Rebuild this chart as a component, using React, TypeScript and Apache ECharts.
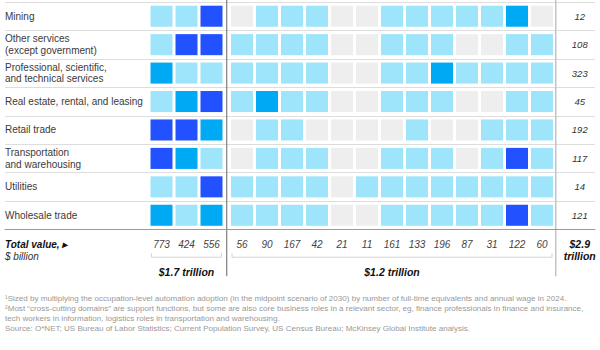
import React, { useEffect, useRef } from "react";
import * as echarts from "echarts";

const rowLabels = [
  "Mining",
  "Other services\n(except government)",
  "Professional, scientific,\nand technical services",
  "Real estate, rental, and leasing",
  "Retail trade",
  "Transportation\nand warehousing",
  "Utilities",
  "Wholesale trade",
];

// 0 = gray, 1 = light blue, 2 = medium blue, 3 = dark blue
const mining = [1, 1, 3, 0, 1, 1, 1, 0, 0, 1, 1, 1, 1, 1, 2, 0];
const otherServices = [1, 3, 3, 1, 1, 1, 1, 0, 0, 1, 1, 1, 0, 0, 1, 1];
const professional = [2, 1, 1, 1, 1, 1, 1, 0, 0, 1, 1, 2, 1, 1, 1, 1];
const realEstate = [1, 2, 3, 1, 2, 1, 1, 0, 0, 1, 1, 1, 0, 0, 1, 1];
const retail = [3, 3, 2, 0, 1, 1, 0, 0, 0, 0, 1, 0, 0, 1, 1, 1];
const transportation = [3, 2, 1, 0, 1, 1, 1, 0, 0, 1, 1, 1, 0, 1, 3, 1];
const utilities = [1, 1, 3, 1, 1, 1, 1, 0, 1, 1, 1, 1, 1, 1, 1, 1];
const wholesale = [2, 1, 2, 1, 1, 1, 1, 0, 0, 1, 1, 1, 1, 1, 3, 1];
const cellLevels = [mining, otherServices, professional, realEstate, retail, transportation, utilities, wholesale];

const rowValues = [12, 108, 323, 45, 192, 117, 14, 121];
const columnTotals = [773, 424, 556, 56, 90, 167, 42, 21, 11, 161, 133, 196, 87, 31, 122, 60];
const groupSizes = [3, 13];
const groupTotals = ["$1.7 trillion", "$1.2 trillion"];
const grandTotal = ["$2.9", "trillion"];
const totalLabel = ["Total value, \u25B8", "$ billion"];
const footnotes = [
  "\u00B9Sized by multiplying the occupation-level automation adoption (in the midpoint scenario of 2030) by number of full-time equivalents and annual wage in 2024.",
  "\u00B2Most \u201Ccross-cutting domains\u201D are support functions, but some are also core business roles in a relevant sector, eg, finance professionals in finance and insurance,",
  "tech workers in information, logistics roles in transportation and warehousing.",
  "Source: O*NET; US Bureau of Labor Statistics; Current Population Survey, US Census Bureau; McKinsey Global Institute analysis.",
];

const levelColors = ["#eeeeee", "#9ee4fb", "#00a9f4", "#2251ff"];
const FONT = "'Liberation Sans', Arial, Helvetica, sans-serif";
const GROUP_GAP = 0.22;
const X_MIN = -6.26;
const X_MAX = 17.34;
const VALUE_X = 16.73;

const colX = (c: number) => (c < groupSizes[0] ? c : c + GROUP_GAP);

export default function App() {
  const ref = useRef<HTMLDivElement>(null);
  useEffect(() => {
    document.body.style.margin = "0";
    if (!ref.current) return;
    const chart = echarts.init(ref.current, null, { renderer: "svg" });

    const cellData: number[][] = [];
    cellLevels.forEach((row, r) => row.forEach((lvl, c) => cellData.push([colX(c), r, lvl])));
    const valueData = rowValues.map((v, r) => [VALUE_X, r, v]);
    const lastRow = rowLabels.length - 1;
    const totalData = columnTotals.map((v, c) => [colX(c), lastRow, v]);

    chart.setOption({
      animation: false,
      grid: { left: 5, right: 5, top: 2, height: 227.5, containLabel: false },
      xAxis: {
        type: "value",
        min: X_MIN,
        max: X_MAX,
        axisLine: { show: true, lineStyle: { color: "#9a9a9a", width: 1 } },
        axisTick: { show: false },
        axisLabel: { show: false },
        splitLine: { show: false },
      },
      yAxis: {
        type: "category",
        data: rowLabels,
        inverse: true,
        axisLine: { show: false },
        axisTick: { show: false },
        splitLine: { show: true, lineStyle: { color: "#dddddd", width: 1 } },
        axisLabel: {
          inside: true,
          margin: 0,
          align: "left",
          color: "#3a3a3a",
          fontSize: 10,
          lineHeight: 11.5,
          fontFamily: FONT,
        },
      },
      series: [
        {
          type: "custom",
          data: cellData,
          renderItem: (params: any, api: any) => {
            const p = api.coord([api.value(0), api.value(1)]);
            const s = api.size([1, 1]);
            const w = s[0] * 0.88;
            const h = s[1] * 0.74;
            return {
              type: "rect",
              shape: { x: p[0] - w / 2, y: p[1] - h / 2, width: w, height: h },
              style: { fill: levelColors[api.value(2)] },
            };
          },
        },
        {
          type: "custom",
          data: valueData,
          renderItem: (params: any, api: any) => {
            const p = api.coord([api.value(0), api.value(1)]);
            return {
              type: "text",
              x: p[0],
              y: p[1],
              style: {
                text: String(api.value(2)),
                align: "center",
                verticalAlign: "middle",
                font: `italic 9.5px ${FONT}`,
                fill: "#333333",
              },
            };
          },
        },
        {
          type: "custom",
          data: totalData,
          clip: false,
          renderItem: (params: any, api: any) => {
            const p = api.coord([api.value(0), api.value(1)]);
            const h = api.size([0, 1])[1];
            return {
              type: "text",
              x: p[0],
              y: p[1] + h + 0.5,
              style: {
                text: String(api.value(2)),
                align: "center",
                verticalAlign: "middle",
                font: `italic 10px ${FONT}`,
                fill: "#444444",
              },
            };
          },
        },
      ],
    });

    const pLast = chart.convertToPixel({ gridIndex: 0 }, [0, lastRow]) as number[];
    const pPrev = chart.convertToPixel({ gridIndex: 0 }, [0, lastRow - 1]) as number[];
    const pitch = pLast[1] - pPrev[1];
    const totalsY = pLast[1] + pitch + 0.5;
    const bracketY = totalsY + 13;
    const groupLabelY = pLast[1] + 2 * pitch;
    const px = (x: number) => (chart.convertToPixel({ gridIndex: 0 }, [x, 0]) as number[])[0];
    const top = 0;
    const bottom = groupLabelY + 4;

    const graphics: any[] = [];
    const div1 = px((colX(groupSizes[0] - 1) + colX(groupSizes[0])) / 2);
    const div2 = px(colX(columnTotals.length - 1) + 0.55);
    graphics.push({
      type: "line",
      shape: { x1: div1, y1: top, x2: div1, y2: bottom },
      style: { stroke: "#666666", lineWidth: 1 },
    });
    graphics.push({
      type: "line",
      shape: { x1: div2, y1: top, x2: div2, y2: bottom },
      style: { stroke: "#c4c4c4", lineWidth: 1.5 },
    });
    let start = 0;
    groupSizes.forEach((n, g) => {
      const x1 = px(colX(start)) - 10;
      const x2 = px(colX(start + n - 1)) + 10;
      graphics.push({
        type: "polyline",
        shape: { points: [[x1, bracketY - 4], [x1, bracketY], [x2, bracketY], [x2, bracketY - 4]] },
        style: { stroke: "#d4d4d4", lineWidth: 1, fill: "none" },
      });
      graphics.push({
        type: "text",
        x: (x1 + x2) / 2,
        y: groupLabelY,
        style: {
          text: groupTotals[g],
          align: "center",
          verticalAlign: "middle",
          font: `italic bold 10.5px ${FONT}`,
          fill: "#111111",
        },
      });
      start += n;
    });
    const gx = px(VALUE_X);
    grandTotal.forEach((t, i) => {
      graphics.push({
        type: "text",
        x: gx,
        y: totalsY + i * 12,
        style: {
          text: t,
          align: "center",
          verticalAlign: "middle",
          font: `italic bold 10.5px ${FONT}`,
          fill: "#111111",
        },
      });
    });
    graphics.push({
      type: "text",
      x: 5,
      y: totalsY,
      style: { text: totalLabel[0], align: "left", verticalAlign: "middle", font: `italic bold 10px ${FONT}`, fill: "#111111" },
    });
    graphics.push({
      type: "text",
      x: 5,
      y: totalsY + 12,
      style: { text: totalLabel[1], align: "left", verticalAlign: "middle", font: `italic 10px ${FONT}`, fill: "#333333" },
    });
    footnotes.forEach((t, i) => {
      graphics.push({
        type: "text",
        x: 5,
        y: 298 + i * 10.3,
        style: { text: t, align: "left", verticalAlign: "middle", font: `8.05px ${FONT}`, fill: "#999999" },
      });
    });

    chart.setOption({ graphic: graphics });

    return () => chart.dispose();
  }, []);
  return <div ref={ref} style={{ width: 600, height: 350, position: "fixed", left: 0, top: 0, background: "#ffffff" }} />;
}
